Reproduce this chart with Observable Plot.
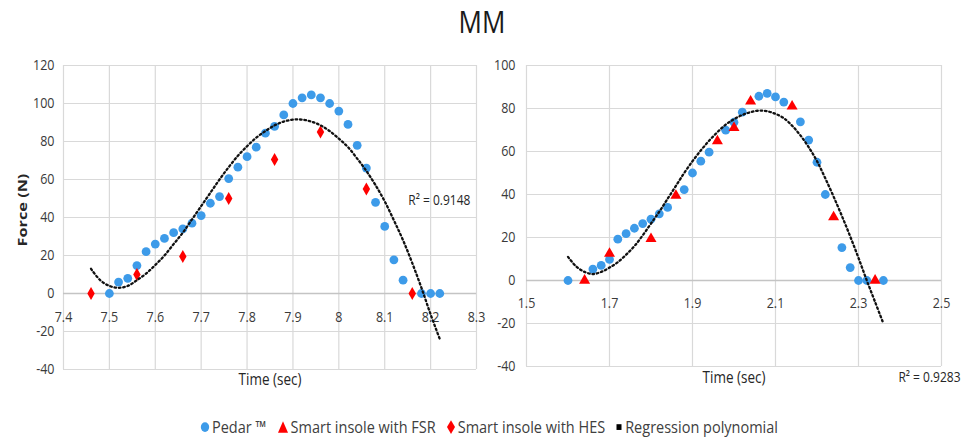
<!DOCTYPE html>
<html>
<head>
<meta charset="utf-8">
<script src="https://cdn.jsdelivr.net/npm/d3@7"></script>
<script src="https://cdn.jsdelivr.net/npm/@observablehq/plot@0.6"></script>
<style>
  body { margin: 0; background: #fff; font-family: "Open Sans", sans-serif; }
  #wrap { position: relative; width: 964px; height: 441px; overflow: hidden; background: #fff; }
  #title { position: absolute; left: 0; width: 964px; top: 3px; text-align: center; font-size: 26px; color: #1a1a1a; transform: scaleY(1.2); }
  .panel { position: absolute; top: 40px; height: 360px; }
  .panel svg { overflow: visible; background: transparent; }
  #ylab { position: absolute; left: 22px; top: 210px; font-size: 13px; font-weight: bold; color: #262626; white-space: nowrap;
          transform: translate(-50%, -50%) rotate(-90deg) scaleX(1.25); }
  #legend { position: absolute; top: 417px; left: 0; width: 978px; display: flex; justify-content: center; align-items: center;
            font-size: 14.5px; color: #404040; transform: scaleY(1.15); }
  #legend .item { display: flex; align-items: center; margin: 0 5px; }
  #legend svg { margin-right: 2px; }
</style>
</head>
<body>
<div id="wrap">
  <div id="title">MM</div>
  <div class="panel" id="left" style="left:0px;width:480px"></div>
  <div class="panel" id="right" style="left:480px;width:484px"></div>
  <div id="ylab">Force (N)</div>
  <div id="legend"></div>
</div>
<script>
// ---------- Left panel data (HES) ----------
const leftXTicks = [7.4, 7.5, 7.6, 7.7, 7.8, 7.9, 8, 8.1, 8.2, 8.3];
const leftYTicks = [-40, -20, 0, 20, 40, 60, 80, 100, 120];
const leftPedarT = [7.50,7.52,7.54,7.56,7.58,7.60,7.62,7.64,7.66,7.68,7.70,7.72,7.74,7.76,7.78,7.80,7.82,7.84,7.86,7.88,7.90,7.92,7.94,7.96,7.98,8.00,8.02,8.04,8.06,8.08,8.10,8.12,8.14,8.18,8.20,8.22];
const leftPedarF = [0,6,8,14.7,22,26,29,32,34,37,41,47.5,51,60.5,66.5,72,77,84.4,88,94,100,103,104.5,103,100,96,89,78,66,48,35.3,17.7,7,0,0,0];
const leftHesT = [7.46,7.56,7.66,7.76,7.86,7.96,8.06,8.16];
const leftHesF = [0,10,19.5,50,70.5,85,55,0];
const leftRegT = [7.46,7.48,7.50,7.52,7.54,7.56,7.58,7.60,7.62,7.64,7.66,7.68,7.70,7.72,7.74,7.76,7.78,7.80,7.82,7.84,7.86,7.88,7.90,7.92,7.94,7.96,7.98,8.00,8.02,8.04,8.06,8.08,8.10,8.12,8.14,8.16,8.18,8.20,8.22];
const leftRegF = [13,7,4,3,4,7,10.5,15,20,26,32,39,46,53,60,66.5,72.5,77.5,82,85.5,88.5,90.5,91.5,91.5,90.5,88.5,85.5,81.5,77,71,64.5,57,48.5,38.5,28,16,3,-11,-24];
const leftR2 = "R² = 0.9148";

// ---------- Right panel data (FSR) ----------
const rightXTicks = [1.5, 1.7, 1.9, 2.1, 2.3, 2.5];
const rightYTicks = [-40, -20, 0, 20, 40, 60, 80, 100];
const rightPedarT = [1.60,1.66,1.68,1.70,1.72,1.74,1.76,1.78,1.80,1.82,1.84,1.88,1.90,1.92,1.94,1.98,2.00,2.02,2.06,2.08,2.10,2.12,2.16,2.18,2.20,2.22,2.26,2.28,2.30,2.32,2.36];
const rightPedarF = [0,5.3,7,9.8,19.2,21.8,24.3,26.5,28.5,31,34,42.3,50,55.5,59.7,69.9,73.6,78.3,85.7,87,85.4,83,73.8,65.3,55,40,15.3,6,0,0,0];
const rightFsrT = [1.64,1.70,1.80,1.86,1.96,2.00,2.04,2.14,2.24,2.34];
const rightFsrF = [0,12.5,19.4,39.5,64.8,71,83.3,81,29.5,0];
const rightRegT = [1.60,1.62,1.64,1.66,1.68,1.70,1.72,1.74,1.76,1.78,1.80,1.82,1.84,1.86,1.88,1.90,1.92,1.94,1.96,1.98,2.00,2.02,2.04,2.06,2.08,2.10,2.12,2.14,2.16,2.18,2.20,2.22,2.24,2.26,2.28,2.30,2.32,2.34,2.36];
const rightRegF = [11,6.5,4,3,4,6,8.5,12,16,21,26.5,32,38,44,50,55.5,60.5,65,69,72.5,75,77,78.3,79,78.7,77.5,75.5,72,67.5,62,55.5,47.5,39,30,20.5,10.5,0,-10,-20];
const rightR2 = "R² = 0.9283";

const xTitle = "Time (sec)";
const legendItems = ["Pedar ™", "Smart insole with FSR", "Smart insole with HES", "Regression polynomial"];

const BLUE = "#3d9be9", RED = "#ff0000", GRID = "#d9d9d9", ZERO = "#c4c4c4", TXT = "#3a3a3a";

const zip = (ts, fs) => ts.map((t, i) => ({t, f: fs[i]}));

function panel(o) {
  const yGrid = o.yTicks.filter(d => d !== 0);
  const svg = Plot.plot({
    width: o.width, height: 360,
    marginLeft: o.ml, marginRight: o.mr, marginTop: 25, marginBottom: o.mb,
    x: {domain: o.xDomain, axis: null},
    y: {domain: o.yDomain, axis: null},
    style: {fontFamily: "Open Sans, sans-serif", background: "transparent", overflow: "visible"},
    marks: [
      Plot.ruleX(o.xTicks, {x: d => d, stroke: GRID, strokeWidth: 1.2}),
      Plot.ruleY(yGrid, {y: d => d, stroke: GRID, strokeWidth: 1.2}),
      Plot.ruleY([0], {y: d => d, stroke: ZERO, strokeWidth: 1.4}),
      Plot.text(o.yTicks, {x: o.xDomain[0], y: d => d, text: d => String(d), textAnchor: "end", dx: -o.tickPad, fontSize: 12.5, fill: TXT}),
      Plot.text(o.xTicks, {x: d => d, y: 0, text: d => String(d), dy: o.xdy, fontSize: 12.5, fill: TXT}),
      Plot.dot(o.pedar, {x: "t", y: "f", r: 4.4, fill: BLUE}),
      Plot.dot(o.other, {x: "t", y: "f", r: o.symR, symbol: o.symbol, fill: RED}),
      Plot.line(o.reg, {x: "t", y: "f", curve: "catmull-rom", stroke: "#111", strokeWidth: 2.3, strokeDasharray: "1.6 2.8"}),
      Plot.text([o.r2], {x: o.r2x, y: o.r2y, text: d => d, fontSize: 12, fill: "#262626"}),
      Plot.text([xTitle], {frameAnchor: "bottom", dy: o.tdy, text: d => d, fontSize: 13.5, fill: "#262626"})
    ]
  });
  // stretch text vertically like the reference (which is slightly tall)
  svg.querySelectorAll("text").forEach(t => {
    const tr = t.getAttribute("transform");
    if (tr) t.setAttribute("transform", tr + " scale(1,1.2)");
  });
  return svg;
}

document.getElementById("left").append(panel({
  width: 480, ml: 63, mr: 4, mb: 31,
  xDomain: [7.4, 8.3], yDomain: [-40, 120],
  xTicks: leftXTicks, yTicks: leftYTicks, tickPad: 9, xdy: 24,
  pedar: zip(leftPedarT, leftPedarF),
  other: zip(leftHesT, leftHesF), symbol: "diamond", symR: 3.9,
  reg: zip(leftRegT, leftRegF),
  r2: leftR2, r2x: 8.219, r2y: 49, tdy: 15
}));

document.getElementById("right").append(panel({
  width: 484, ml: 46, mr: 23, mb: 34,
  xDomain: [1.5, 2.5], yDomain: [-40, 100],
  xTicks: rightXTicks, yTicks: rightYTicks, tickPad: 11, xdy: 23,
  pedar: zip(rightPedarT, rightPedarF),
  other: zip(rightFsrT, rightFsrF), symbol: "triangle", symR: 4.1,
  reg: zip(rightRegT, rightRegF),
  r2: rightR2, r2x: 2.471, r2y: -45, tdy: 16
}));

// ---------- Legend ----------
const icons = [
  '<svg width="10" height="12"><circle cx="5" cy="6" r="4.2" fill="' + BLUE + '"/></svg>',
  '<svg width="12" height="12"><path d="M6,1 L11,11 L1,11 Z" fill="' + RED + '"/></svg>',
  '<svg width="10" height="14"><path d="M5,1 L9,7 L5,13 L1,7 Z" fill="' + RED + '"/></svg>',
  '<svg width="8" height="12"><rect x="1.5" y="3.5" width="5" height="5" fill="#000"/></svg>'
];
const leg = document.getElementById("legend");
legendItems.forEach((label, i) => {
  const it = document.createElement("div");
  it.className = "item";
  it.innerHTML = icons[i] + "<span>" + label + "</span>";
  leg.append(it);
});
</script>
</body>
</html>
